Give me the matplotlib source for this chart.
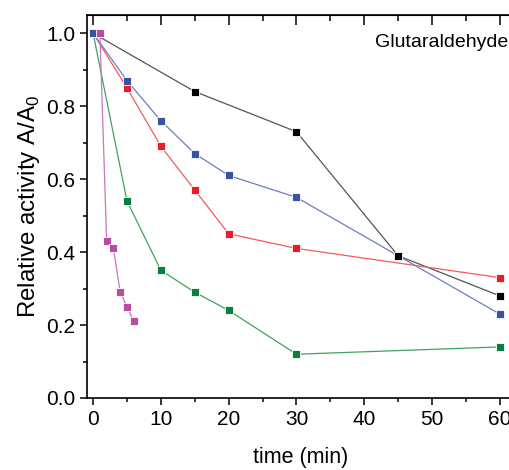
import numpy as np
import matplotlib
matplotlib.use('Agg')
import matplotlib.pyplot as plt
from matplotlib.ticker import MultipleLocator

plt.rcParams['font.family'] = ['Liberation Sans', 'DejaVu Sans']
plt.rcParams['font.size'] = 15

# data
t_black = [0, 15, 30, 45, 60]
a_black = [1.0, 0.84, 0.73, 0.39, 0.28]

t_blue = [0, 5, 10, 15, 20, 30, 60]
a_blue = [1.0, 0.87, 0.76, 0.67, 0.61, 0.55, 0.23]

t_red = [0, 5, 10, 15, 20, 30, 60]
a_red = [1.0, 0.85, 0.69, 0.57, 0.45, 0.41, 0.33]

t_green = [0, 5, 10, 15, 20, 30, 60]
a_green = [1.0, 0.54, 0.35, 0.29, 0.24, 0.12, 0.14]

t_mag = [1, 2, 3, 4, 5, 6]
a_mag = [1.0, 0.43, 0.41, 0.29, 0.25, 0.21]

series = [
    (t_black, a_black, '#000000', '#555555'),
    (t_red, a_red, '#ED1C24', '#F25A5F'),
    (t_green, a_green, '#0A7F3F', '#3FA35F'),
    (t_blue, a_blue, '#3953A4', '#6A7FC0'),
    (t_mag, a_mag, '#B84CA3', '#C977B9'),
]

fig = plt.figure(figsize=(5.1, 4.7), dpi=100)
ax = fig.add_axes([0.1706, 0.1532, 0.836, 0.8149])

for t, a, mc, lc in series:
    ax.plot(t, a, color=lc, lw=0.9, zorder=2)
    ax.plot(t, a, 's', color=mc, ms=6.2, mec='white', mew=0.6, zorder=3)

ax.set_xlim(-0.9, 62)
ax.set_ylim(0, 1.05)
ax.xaxis.set_major_locator(MultipleLocator(10))
ax.xaxis.set_minor_locator(MultipleLocator(5))
ax.yaxis.set_major_locator(MultipleLocator(0.2))
ax.yaxis.set_minor_locator(MultipleLocator(0.1))
ax.yaxis.set_major_formatter(plt.FormatStrFormatter('%.1f'))

for s in ax.spines.values():
    s.set_linewidth(1.2)
ax.spines['right'].set_visible(False)

ax.tick_params(which='major', direction='out', length=5, width=1.1, labelsize=15)
ax.tick_params(which='minor', direction='out', length=3, width=1.1)

top = ax.secondary_xaxis('top')
top.xaxis.set_major_locator(MultipleLocator(10))
top.xaxis.set_minor_locator(MultipleLocator(5))
top.tick_params(which='major', direction='in', length=7, width=1.1, labeltop=False)
top.tick_params(which='minor', direction='in', length=4, width=1.1)

ax.set_xlabel('time (min)', fontsize=15.5, labelpad=13)
ax.set_ylabel('Relative activity A/A$_\\mathregular{0}$', fontsize=17.3, labelpad=3)

fig.text(0.996, 0.91, 'Glutaraldehyde', ha='right', va='center', fontsize=14)

fig.savefig('out.png', dpi=100)
